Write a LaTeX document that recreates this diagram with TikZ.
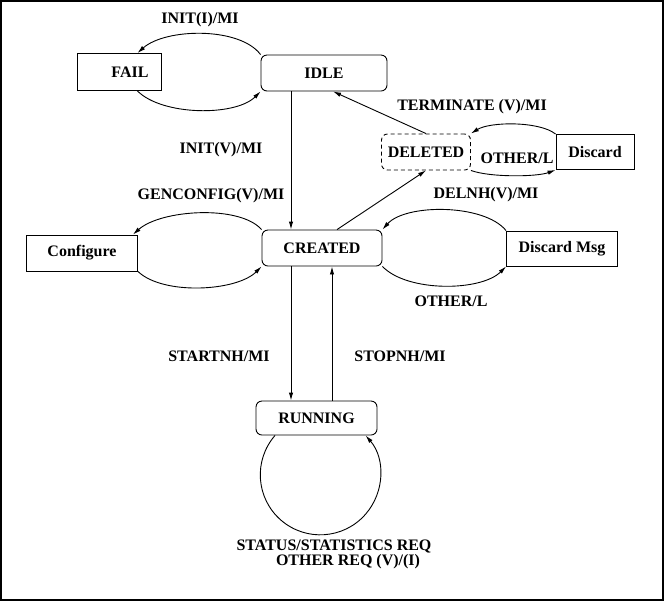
\documentclass[tikz,border=0pt]{standalone}
\usepackage{fontspec}
\setmainfont{Liberation Serif}
\usetikzlibrary{arrows.meta}

\begin{document}
\begin{tikzpicture}[x=0.5pt, y=-0.5pt, line width=0.45pt,
    font=\fontsize{8}{9.5}\selectfont\bfseries,
    state/.style={draw, rounded corners=3pt, inner sep=0pt, minimum height=18pt},
    plainbox/.style={draw, inner sep=0pt, minimum height=18pt},
    trans/.style={-{Latex[length=4pt,width=2.2pt]}},
    lbl/.style={inner sep=0pt}]
    \useasboundingbox (0,0) rectangle (667,607);
    \draw[line width=1pt] (1,1) rectangle (663,600);
    % States
    \node[plainbox, minimum width=42pt, minimum height=18.5pt] (fail) at (119,72) {\hspace*{11pt}FAIL};
    \node[state, minimum width=63pt] (idle) at (324,73) {IDLE};
    \node[state, dash pattern=on 2pt off 1.5pt, minimum width=44.5pt] (deleted) at (426,152) {DELETED};
    \node[plainbox, minimum width=39pt, minimum height=17.5pt] (discard) at (595,152) {Discard};
    \node[plainbox, minimum width=55.5pt] (configure) at (82,253) {Configure};
    \node[state, minimum width=60pt] (created) at (322,248) {CREATED};
    \node[plainbox, minimum width=55.5pt, minimum height=17.5pt] (discardmsg) at (562,248.5) {Discard Msg};
    \node[state, minimum width=60.5pt, minimum height=17pt] (running) at (316.5,418) {RUNNING};
    \coordinate (down) at (291,0);
    \coordinate (up) at (332,0);
    % Transitions
    \draw[trans] (idle.north west) .. controls +(-21,-28) and +(28,-25) .. ([xshift=-12pt]fail.north east);
    \draw[trans] ([xshift=-12pt]fail.south east) .. controls +(25,25) and +(-25,25) .. (idle.south west);
    \draw[trans] (idle.south -| down) -- (created.north -| down);
    \draw[trans] (deleted.north) -- ([xshift=4.5pt]idle.south);
    \draw[trans] ([xshift=7.5pt]created.north) -- (deleted.south);
    \draw[trans] (discard.north west) .. controls +(-16,-13) and +(19,-12) .. (deleted.north east);
    \draw[trans] (deleted.south east) .. controls +(19,7) and +(-19,7) .. (discard.south west);
    \draw[trans] (created.north west) .. controls +(-22,-25) and +(28,-25) .. ([xshift=-2.5pt]configure.north east);
    \draw[trans] (configure.south east) .. controls +(25,24) and +(-25,25) .. (created.south west);
    \draw[trans] (discardmsg.north west) .. controls +(-22,-27) and +(23,-26) .. (created.north east);
    \draw[trans] (created.south east) .. controls +(25,26) and +(-25,25) .. (discardmsg.south west);
    \draw[trans] (created.south -| down) -- (running.north -| down);
    \draw[trans] (running.north -| up) -- (created.south -| up);
    \draw[trans] ([xshift=-20.75pt]running.south) arc[start angle=139, end angle=401, radius=30pt];
    % Labels
    \node[lbl] (l-initi) at (200,20) {INIT(I)/MI};
    \node[lbl] (l-initv) at (221,150) {INIT(V)/MI};
    \node[lbl] (l-term) at (472,107) {TERMINATE (V)/MI};
    \node[lbl] (l-other1) at (517,158) {OTHER/L};
    \node[lbl] (l-genconf) at (211,196) {GENCONFIG(V)/MI};
    \node[lbl] (l-delnh) at (486,195) {DELNH(V)/MI};
    \node[lbl] (l-other2) at (451,301) {OTHER/L};
    \node[lbl] (l-start) at (219,356) {STARTNH/MI};
    \node[lbl] (l-stop) at (400,356) {STOPNH/MI};
    \node[lbl] (l-status) at (334,546) {STATUS/STATISTICS REQ};
    \node[lbl] (l-otherreq) at (348,562) {OTHER REQ (V)/(I)};
\end{tikzpicture}
\end{document}
